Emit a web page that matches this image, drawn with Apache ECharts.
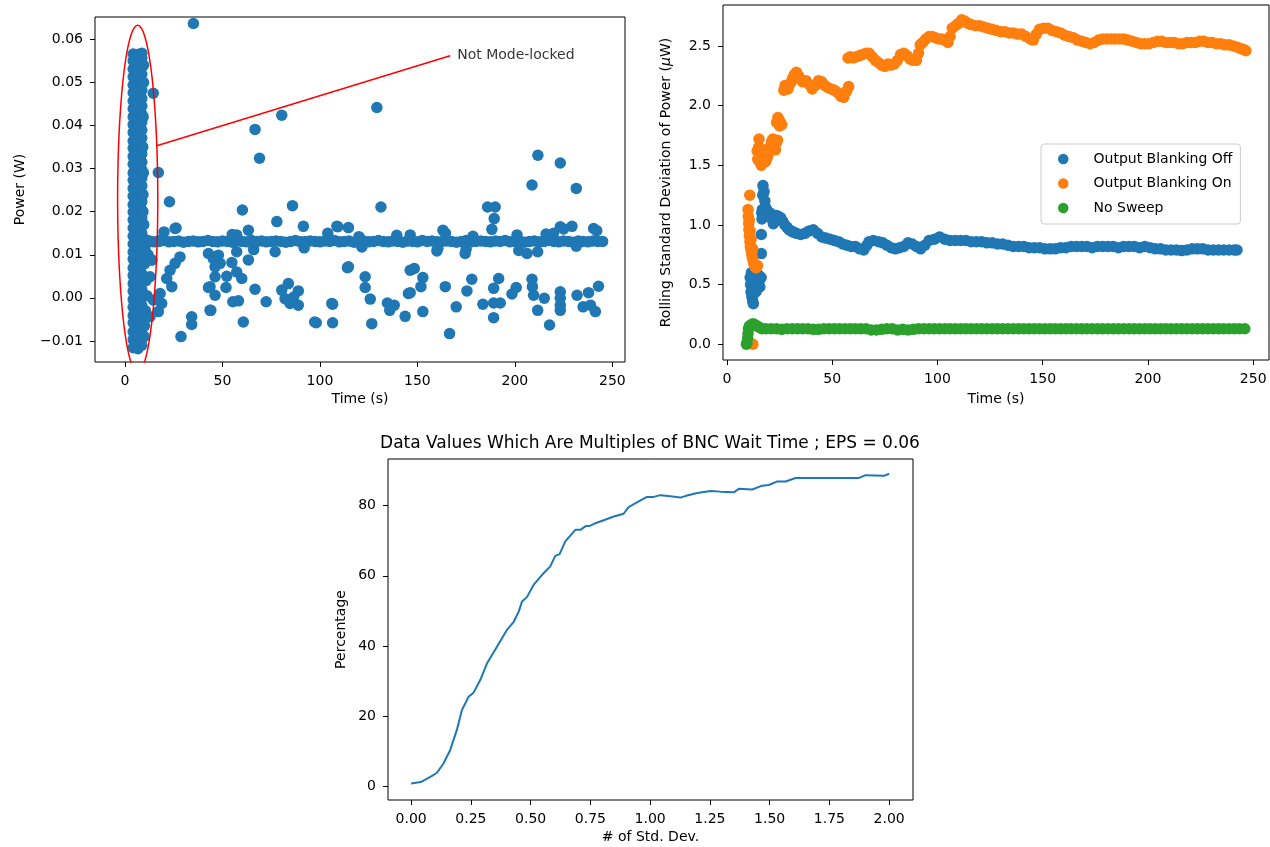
<!DOCTYPE html>
<html>
<head>
<meta charset="utf-8">
<script src="https://cdn.jsdelivr.net/npm/echarts@6/dist/echarts.min.js"></script>
<style>
html, body { margin: 0; padding: 0; background: #fff; }
#main { width: 1270px; height: 847px; }
</style>
</head>
<body>
<div id="main"></div>
<script>
var FONT = 'DejaVu Sans';
var C_BLUE = '#1f77b4', C_ORANGE = '#ff7f0e', C_GREEN = '#2ca02c';
var DOT = 11.5;

// ---- top left: power vs time ----
// dense burst before mode-locking, three columns of readings
var burstTimes = [4.2, 6.6, 8.6];
var burstColA = [-0.0116, -0.0097, -0.0079, -0.0058, -0.0041, -0.0022, -0.0004, 0.0015, 0.0033, 0.0052, 0.0069, 0.0090, 0.0106, 0.0125,
    0.0143, 0.0162, 0.0181, 0.0199, 0.0216, 0.0236, 0.0254, 0.0273, 0.0290, 0.0310, 0.0328, 0.0347, 0.0364, 0.0384, 0.0402, 0.0420,
    0.0439, 0.0457, 0.0476, 0.0494, 0.0513, 0.0531, 0.0550, 0.0566];
var burstColB = [-0.0118, -0.0100, -0.0083, -0.0064, -0.0045, -0.0027, -0.0009, 0.0010, 0.0028, 0.0047, 0.0065, 0.0084, 0.0102, 0.0121,
    0.0139, 0.0158, 0.0176, 0.0195, 0.0213, 0.0232, 0.0250, 0.0269, 0.0287, 0.0306, 0.0324, 0.0343, 0.0361, 0.0380, 0.0398, 0.0417,
    0.0435, 0.0454, 0.0472, 0.0491, 0.0509, 0.0528, 0.0546, 0.0565];
var burstColC = [-0.0110, -0.0092, -0.0073, -0.0055, -0.0036, -0.0018, 0.0001, 0.0019, 0.0038, 0.0056, 0.0075, 0.0093, 0.0112, 0.0130,
    0.0149, 0.0167, 0.0186, 0.0204, 0.0223, 0.0241, 0.0260, 0.0278, 0.0297, 0.0315, 0.0334, 0.0352, 0.0371, 0.0389, 0.0408, 0.0426,
    0.0445, 0.0463, 0.0482, 0.0500, 0.0519, 0.0537, 0.0556, 0.0568];
var burstEdge = [[10.5, 0.0135], [11.5, 0.0128], [12.5, 0.0131], [10.2, 0.0080], [10.8, 0.0040], [11.2, 0.0005], [10.5, -0.0030],
    [10.0, -0.0065], [9.2, 0.0200], [9.4, 0.0290], [9.3, 0.0420], [9.5, 0.0500], [9.6, 0.0170], [9.2, 0.0240], [12.8, 0.0049],
    [13.7, 0.0088], [12.8, -0.0044], [11.8, 0.0100], [9.5, 0.0540], [9.1, 0.0350], [10.3, 0.0110], [9.8, -0.0090]];
// steady mode-locked readings every 2.5 s from 10 s
var bandStart = 10, bandStep = 2.5;
var bandPower = [
    0.0131, 0.0132, 0.0130, 0.0131, 0.0133, 0.0130, 0.0131, 0.0132, 0.0129, 0.0131,
    0.0132, 0.0130, 0.0131, 0.0133, 0.0131, 0.0130, 0.0132, 0.0131, 0.0129, 0.0132,
    0.0131, 0.0130, 0.0133, 0.0131, 0.0132, 0.0130, 0.0131, 0.0132, 0.0131, 0.0129,
    0.0131, 0.0133, 0.0130, 0.0131, 0.0132, 0.0131, 0.0130, 0.0132, 0.0131, 0.0133,
    0.0130, 0.0131, 0.0132, 0.0129, 0.0131, 0.0132, 0.0130, 0.0131, 0.0133, 0.0131,
    0.0130, 0.0132, 0.0131, 0.0129, 0.0132, 0.0131, 0.0130, 0.0133, 0.0131, 0.0132,
    0.0130, 0.0131, 0.0132, 0.0131, 0.0129, 0.0131, 0.0133, 0.0130, 0.0131, 0.0132,
    0.0131, 0.0130, 0.0132, 0.0131, 0.0133, 0.0130, 0.0131, 0.0132, 0.0129, 0.0131,
    0.0132, 0.0130, 0.0131, 0.0133, 0.0131, 0.0130, 0.0132, 0.0131, 0.0129, 0.0132,
    0.0131, 0.0130, 0.0132, 0.0131, 0.0131];
var outliers = [
    [35.1, 0.0637], [14.5, 0.0475], [80.4, 0.0424], [66.7, 0.0391], [69.0, 0.0324], [17.1, 0.0291], [22.8, 0.0223], [60.2, 0.0204],
    [85.9, 0.0214], [26.2, 0.0162], [63.3, 0.0157], [77.9, 0.0177], [91.5, 0.0166], [20.0, 0.0153], [25.7, 0.0161], [18.0, 0.0134],
    [13.7, 0.0088], [18.0, 0.0010], [18.8, -0.0013], [17.1, -0.0032], [14.5, -0.0005], [28.2, 0.0095], [25.7, 0.0080],
    [23.1, 0.0064], [24.0, 0.0026], [21.4, 0.0045], [34.2, -0.0044], [34.2, -0.0062], [28.7, -0.0090], [43.6, -0.0029], [43.6, 0.0026],
    [46.2, 0.0006], [46.2, 0.0072], [42.8, 0.0103], [47.9, 0.0099], [131.3, 0.0211], [108.7, 0.0166], [114.6, 0.0163], [57.3, 0.0146],
    [57.3, 0.0107], [63.3, 0.0088], [77.0, 0.0107], [91.9, 0.0116], [45.3, 0.0091], [48.8, 0.0080], [54.8, 0.0082], [114.1, 0.0070],
    [46.2, 0.0049], [52.2, 0.0050], [57.3, 0.0060], [59.9, 0.0045], [51.8, 0.0024], [42.8, 0.0024], [66.7, 0.0020], [55.3, -0.0009],
    [58.2, -0.0007], [72.4, -0.0009], [44.0, -0.0029], [60.7, -0.0056], [80.4, 0.0018], [83.8, 0.0033], [88.9, 0.0016], [82.1, -0.0002],
    [84.7, -0.0013], [88.9, -0.0017], [86.5, 0.0002], [98.1, -0.0058], [106.5, -0.0058], [106.5, -0.0015], [126.6, -0.0060],
    [125.8, -0.0003], [123.2, 0.0049], [123.2, 0.0024], [134.6, -0.0012], [138.1, -0.0017], [135.8, -0.0029], [143.7, -0.0043],
    [145.4, 0.0010], [146.3, 0.0064], [208.8, 0.0262], [231.5, 0.0254], [186.0, 0.0211], [189.9, 0.0211], [189.4, 0.0184],
    [188.2, 0.0159], [163.1, 0.0157], [229.3, 0.0166], [223.3, 0.0165], [240.4, 0.0161], [219.8, 0.0150], [201.1, 0.0146],
    [146.3, 0.0146], [160.0, 0.0109], [174.5, 0.0103], [206.2, 0.0103], [211.7, 0.0107], [231.5, 0.0120], [148.4, 0.0068],
    [152.8, 0.0047], [151.8, 0.0026], [146.3, 0.0012], [152.8, -0.0032], [164.3, 0.0026], [166.5, -0.0083], [169.9, -0.0021],
    [175.4, 0.0016], [177.9, 0.0043], [183.6, -0.0015], [189.1, -0.0012], [192.5, -0.0012], [189.1, -0.0046], [189.1, 0.0022],
    [191.7, 0.0045], [198.5, 0.0009], [200.7, 0.0024], [208.8, 0.0043], [209.0, 0.0026], [209.6, 0.0006], [215.1, -0.0001],
    [211.7, -0.0029], [217.8, -0.0063], [223.3, 0.0014], [223.3, -0.0001], [223.3, -0.0017], [223.3, -0.0029], [231.9, 0.0006],
    [237.8, 0.0012], [242.9, 0.0027], [235.0, -0.0021], [238.8, -0.0017], [241.3, -0.0032], [129.2, 0.0442], [211.8, 0.0331],
    [223.3, 0.0313], [109.2, 0.0165], [114.6, 0.0072], [106.1, -0.0013], [97.3, -0.0056], [104.0, 0.0150], [139.4, 0.0145],
    [164.4, 0.0150], [178.5, 0.0143], [216.0, 0.0148], [225.0, 0.0160], [242.0, 0.0156], [55.0, 0.0147], [120.0, 0.0142],
    [175.0, 0.0113], [202.0, 0.0110], [160.5, 0.0115], [66.0, 0.0112], [121.5, 0.0118]];
var powerTimeTicks = [0, 50, 100, 150, 200, 250];
var powerTicks = [-0.01, 0, 0.01, 0.02, 0.03, 0.04, 0.05, 0.06];
// annotation: ellipse round the burst, arrow line to the label
var ringCenter = [6.5, 0.023], ringRadius = [10.3, 0.0403];
var annoFrom = [16.3, 0.0353], annoTo = [166.8, 0.0562], annoText = [170.4, 0.0562];

// ---- top right: rolling standard deviation ----
var blankOff = [
    [11.0, 0.56], [11.2, 0.50], [11.4, 0.44], [11.8, 0.40], [12.2, 0.36], [12.5, 0.34], [12.6, 0.42], [12.8, 0.50], [13.0, 0.57],
    [13.3, 0.60], [13.6, 0.52], [14.0, 0.47], [14.3, 0.55], [14.7, 0.50], [15.0, 0.58], [15.3, 0.53], [15.6, 0.48], [12.0, 0.55],
    [11.6, 0.60], [13.8, 0.44], [16.2, 0.56], [16.3, 0.76], [16.3, 0.92], [16.6, 1.05], [16.8, 1.13], [17.0, 1.25], [17.1, 1.33],
    [17.6, 1.28], [18.0, 1.20], [18.5, 1.14], [16.5, 1.10], [17.5, 1.08], [19.0, 1.12], [19.8, 1.08], [20.5, 1.10], [21.3, 1.05],
    [22.0, 1.01], [22.8, 1.04], [23.5, 1.08], [24.5, 1.07], [25.5, 1.06], [26.5, 1.03], [27.5, 1.00], [28.5, 0.98], [29.5, 0.96],
    [30.5, 0.95], [31.5, 0.94], [33.0, 0.93], [35.0, 0.92], [37.0, 0.93], [39.0, 0.95], [41.0, 0.96], [43.0, 0.93], [45.0, 0.90],
    [47.0, 0.89], [49.0, 0.88], [51.0, 0.87], [53.0, 0.86], [55.0, 0.84], [57.0, 0.83], [59.0, 0.82], [61.0, 0.82], [63.0, 0.80],
    [65.0, 0.79], [66.5, 0.83], [67.5, 0.86], [69.5, 0.87], [72.0, 0.86], [74.0, 0.85], [76.0, 0.83], [78.0, 0.81], [80.0, 0.80],
    [82.0, 0.81], [84.0, 0.82], [86.0, 0.85], [88.0, 0.84], [90.0, 0.82], [92.0, 0.80], [94.0, 0.83], [96.0, 0.87], [98.5, 0.88],
    [101.0, 0.90], [103.5, 0.88], [106.0, 0.87], [108.5, 0.87], [111.0, 0.87], [113.5, 0.87], [116.0, 0.86], [118.5, 0.86],
    [121.0, 0.86], [123.5, 0.85], [126.0, 0.85], [128.5, 0.84], [131.0, 0.84], [133.5, 0.83], [136.0, 0.82], [138.5, 0.82],
    [141.0, 0.82], [143.5, 0.81], [146.0, 0.81], [148.5, 0.81], [151.0, 0.80], [153.5, 0.80], [156.0, 0.80], [158.5, 0.81],
    [161.0, 0.81], [163.5, 0.82], [166.0, 0.82], [168.5, 0.82], [171.0, 0.82], [173.5, 0.81], [176.0, 0.82], [178.5, 0.82],
    [181.0, 0.82], [183.5, 0.82], [186.0, 0.81], [188.5, 0.82], [191.0, 0.82], [193.5, 0.82], [196.0, 0.81], [198.5, 0.82],
    [201.0, 0.81], [203.5, 0.80], [206.0, 0.80], [208.5, 0.79], [211.0, 0.79], [213.5, 0.79], [216.0, 0.785], [218.5, 0.79],
    [221.0, 0.80], [223.5, 0.80], [226.0, 0.80], [228.5, 0.79], [231.0, 0.79], [233.5, 0.79], [236.0, 0.79], [238.5, 0.79],
    [241.0, 0.79], [242.3, 0.79]];
var blankOn = [
    [12.3, 0.0], [10.8, 1.25], [10.0, 1.13], [10.1, 1.07], [10.3, 1.01], [10.4, 0.96], [10.6, 0.91], [10.9, 0.86], [11.1, 0.82],
    [11.4, 0.79], [11.7, 0.76], [12.0, 0.73], [12.4, 0.70], [12.8, 0.67], [13.3, 0.65], [13.8, 0.64], [14.5, 0.66], [10.6, 1.04],
    [11.0, 0.95], [11.5, 0.88], [12.2, 0.80],
    [14.3, 1.62], [14.6, 1.55], [15.0, 1.65], [15.4, 1.58], [15.8, 1.52], [16.3, 1.50], [16.8, 1.55], [17.3, 1.60], [17.8, 1.56],
    [18.3, 1.53], [18.8, 1.55], [19.4, 1.58], [20.0, 1.62], [20.6, 1.66], [21.2, 1.70], [21.8, 1.72], [22.4, 1.67], [23.0, 1.63],
    [23.5, 1.69], [24.0, 1.71], [15.2, 1.72], [16.0, 1.64],
    [23.6, 1.86], [24.2, 1.90], [24.8, 1.88], [25.4, 1.86], [26.0, 1.84], [25.0, 1.83],
    [27.0, 2.13], [27.6, 2.17], [28.3, 2.16], [29.0, 2.14], [29.8, 2.18], [30.5, 2.20], [31.2, 2.23], [32.0, 2.26], [33.0, 2.28],
    [34.0, 2.25], [35.0, 2.22], [36.0, 2.20], [37.5, 2.21], [39.0, 2.18], [40.5, 2.14], [42.0, 2.17], [43.5, 2.21], [45.0, 2.20],
    [46.5, 2.17], [48.0, 2.15], [49.5, 2.14], [51.0, 2.13], [52.5, 2.11], [54.0, 2.08], [55.5, 2.07], [56.8, 2.12], [57.8, 2.16],
    [57.5, 2.40], [58.5, 2.41], [60.0, 2.40], [61.5, 2.41], [63.0, 2.42], [64.5, 2.43], [66.0, 2.44], [67.5, 2.44], [69.0, 2.41],
    [70.5, 2.38], [72.0, 2.36], [73.5, 2.34], [75.0, 2.33], [76.5, 2.35], [78.0, 2.34], [79.5, 2.35], [81.0, 2.38], [82.5, 2.43],
    [84.0, 2.44], [85.5, 2.42], [87.0, 2.39], [88.5, 2.38], [90.0, 2.38], [91.0, 2.44], [91.8, 2.51], [93.0, 2.53], [94.5, 2.56],
    [96.0, 2.58], [97.5, 2.58], [99.0, 2.57], [100.5, 2.56], [102.0, 2.56], [103.5, 2.55], [105.0, 2.53], [106.0, 2.58],
    [107.0, 2.65], [108.5, 2.67], [110.0, 2.69], [111.5, 2.72], [113.0, 2.71], [114.5, 2.69], [116.0, 2.68], [118.0, 2.67],
    [120.0, 2.67], [122.0, 2.66], [124.0, 2.65], [126.0, 2.64], [128.0, 2.63], [130.0, 2.62], [132.0, 2.62], [134.0, 2.61],
    [136.0, 2.61], [138.0, 2.60], [140.0, 2.60], [142.0, 2.58], [144.0, 2.56], [145.5, 2.55], [147.0, 2.60], [148.5, 2.64],
    [150.5, 2.65], [152.5, 2.65], [154.5, 2.63], [156.5, 2.62], [158.5, 2.61], [160.5, 2.59], [162.5, 2.58], [164.5, 2.57],
    [166.5, 2.55], [168.5, 2.54], [170.5, 2.53], [172.5, 2.52], [174.5, 2.53], [176.5, 2.55], [178.5, 2.56], [180.5, 2.56],
    [182.5, 2.56], [184.5, 2.56], [186.5, 2.56], [188.5, 2.56], [190.5, 2.55], [192.5, 2.54], [194.5, 2.53], [196.5, 2.52],
    [198.5, 2.52], [200.5, 2.52], [202.5, 2.53], [204.5, 2.54], [206.5, 2.54], [208.5, 2.53], [210.5, 2.53], [212.5, 2.53],
    [214.5, 2.52], [216.5, 2.52], [218.5, 2.53], [220.5, 2.53], [222.5, 2.53], [224.5, 2.54], [226.5, 2.54], [228.5, 2.53],
    [230.5, 2.53], [232.5, 2.52], [234.5, 2.52], [236.5, 2.51], [238.5, 2.51], [240.5, 2.50], [242.5, 2.49], [244.0, 2.48],
    [245.5, 2.47], [246.5, 2.46]];
var noSweepStartup = [[9.2, 0.0], [9.5, 0.01], [9.8, 0.05], [10.0, 0.09], [10.2, 0.13], [10.6, 0.15], [11.2, 0.16], [12.0, 0.17],
    [12.8, 0.17], [13.6, 0.16], [14.5, 0.15], [15.5, 0.14], [16.5, 0.13]];
// after start-up, one reading every 2.5 s from 18.5 s
var noSweepStart = 18.5, noSweepStep = 2.5;
var noSweepVals = [
    0.13, 0.13, 0.13, 0.125, 0.13, 0.13, 0.13, 0.13, 0.13, 0.125,
    0.125, 0.13, 0.13, 0.13, 0.13, 0.13, 0.13, 0.13, 0.13, 0.13,
    0.12, 0.12, 0.125, 0.13, 0.13, 0.12, 0.125, 0.12, 0.125, 0.13,
    0.13, 0.13, 0.13, 0.13, 0.13, 0.13, 0.13, 0.13, 0.13, 0.13,
    0.13, 0.13, 0.13, 0.13, 0.13, 0.13, 0.13, 0.13, 0.13, 0.13,
    0.13, 0.13, 0.13, 0.13, 0.13, 0.13, 0.13, 0.13, 0.13, 0.13,
    0.13, 0.13, 0.13, 0.13, 0.13, 0.13, 0.13, 0.13, 0.13, 0.13,
    0.13, 0.13, 0.13, 0.13, 0.13, 0.13, 0.13, 0.13, 0.13, 0.13,
    0.13, 0.13, 0.13, 0.13, 0.13, 0.13, 0.13, 0.13, 0.13, 0.13,
    0.13, 0.13];
var rollTimeTicks = [0, 50, 100, 150, 200, 250];
var rollTicks = [0, 0.5, 1, 1.5, 2, 2.5];

// ---- bottom: percentage vs number of std. dev. ----
var stdDevX = [0.00, 0.04, 0.08, 0.107, 0.135, 0.163, 0.191, 0.212, 0.24, 0.261, 0.289, 0.317, 0.359, 0.401, 0.429, 0.45, 0.464,
    0.485, 0.512, 0.548, 0.582, 0.603, 0.621, 0.645, 0.687, 0.708, 0.729, 0.75, 0.771, 0.82, 0.848, 0.889, 0.91, 0.952, 0.987,
    1.015, 1.043, 1.085, 1.127, 1.155, 1.197, 1.253, 1.294, 1.35, 1.371, 1.427, 1.469, 1.497, 1.532, 1.567, 1.609, 1.71, 1.874,
    1.902, 1.979, 2.0];
var percentY = [0.8, 1.2, 2.7, 3.8, 6.5, 10.3, 16.0, 21.7, 25.5, 26.7, 30.3, 35.0, 39.8, 44.6, 46.9, 49.8, 52.7, 54.0, 57.4,
    60.3, 62.7, 65.7, 66.2, 69.8, 73.1, 73.1, 74.1, 74.3, 75.0, 76.2, 76.9, 77.7, 79.6, 81.2, 82.5, 82.5, 83.0, 82.7, 82.3,
    82.9, 83.6, 84.2, 84.0, 83.8, 84.8, 84.6, 85.7, 85.9, 86.9, 86.9, 87.9, 87.9, 87.9, 88.7, 88.5, 89.1];
var stdDevTicks = [0, 0.25, 0.5, 0.75, 1, 1.25, 1.5, 1.75, 2];
var percentTicks = [0, 20, 40, 60, 80];

var chart = echarts.init(document.getElementById('main'));
initChart();

/**
 * 组装散点数据
 */
function buildPowerData() {
    var data = [];
    var cols = [burstColA, burstColB, burstColC];
    for (var c = 0; c < cols.length; c++) {
        for (var i = 0; i < cols[c].length; i++) {
            data.push([burstTimes[c], cols[c][i]]);
        }
    }
    for (var j = 0; j < burstEdge.length; j++) data.push(burstEdge[j]);
    for (var k = 0; k < bandPower.length; k++) data.push([bandStart + k * bandStep, bandPower[k]]);
    for (var m = 0; m < outliers.length; m++) data.push(outliers[m]);
    return data;
}

function buildNoSweep() {
    var data = noSweepStartup.slice();
    for (var i = 0; i < noSweepVals.length; i++) data.push([noSweepStart + i * noSweepStep, noSweepVals[i]]);
    return data;
}

function buildRing() {
    var pts = [];
    for (var i = 0; i <= 120; i++) {
        var a = i / 120 * Math.PI * 2;
        pts.push([ringCenter[0] + ringRadius[0] * Math.cos(a), ringCenter[1] + ringRadius[1] * Math.sin(a)]);
    }
    return pts;
}

function minusFmt(digits) {
    return function(v) {
        var s = Math.abs(v).toFixed(digits);
        return (v < 0 && Number(s) !== 0 ? '\u2212' : '') + s;
    };
}

function axis(gridIndex, min, max, ticks, fmt, name, nameGap, isY) {
    return {
        type: 'value',
        gridIndex: gridIndex,
        min: min,
        max: max,
        name: name,
        nameLocation: 'middle',
        nameGap: nameGap,
        nameRotate: isY ? 90 : 0,
        nameTextStyle: { fontFamily: FONT, fontSize: 14, color: '#000' },
        splitLine: { show: false },
        axisLine: { show: false, onZero: false },
        axisTick: { show: true, length: 5, customValues: ticks, lineStyle: { color: '#000', width: 1 } },
        axisLabel: { customValues: ticks, formatter: fmt, fontFamily: FONT, fontSize: 14, color: '#000', margin: 12 }
    };
}

function initChart() {
    var gridBase = { show: true, borderColor: '#000', borderWidth: 1, backgroundColor: '#fff', containLabel: false };
    var option = {
        animation: false,
        textStyle: { fontFamily: FONT },
        grid: [
            Object.assign({ left: 95, top: 17, width: 530, height: 345 }, gridBase),
            Object.assign({ left: 723, top: 5, width: 546, height: 355 }, gridBase),
            Object.assign({ left: 388, top: 459, width: 525, height: 341 }, gridBase)
        ],
        xAxis: [
            axis(0, -15.4, 256.5, powerTimeTicks, minusFmt(0), 'Time (s)', 30, false),
            axis(1, -1.9, 257.5, rollTimeTicks, minusFmt(0), 'Time (s)', 32, false),
            axis(2, -0.097, 2.1, stdDevTicks, minusFmt(2), '# of Std. Dev.', 30, false)
        ],
        yAxis: [
            axis(0, -0.0149, 0.0652, powerTicks, minusFmt(2), 'Power (W)', 68, true),
            (function() {
                var a = axis(1, -0.132, 2.844, rollTicks, minusFmt(1), 'Rolling Standard Deviation of Power ({i|\u03bc}W)', 50, true);
                a.nameTextStyle.rich = { i: { fontFamily: FONT, fontSize: 14, fontStyle: 'italic', color: '#000' } };
                return a;
            })(),
            axis(2, -3.9, 93.3, percentTicks, minusFmt(0), 'Percentage', 40, true)
        ],
        legend: {
            left: 1041,
            top: 144,
            orient: 'vertical',
            data: ['Output Blanking Off', 'Output Blanking On', 'No Sweep'],
            icon: 'circle',
            itemWidth: 10.5,
            itemHeight: 10.5,
            itemGap: 10.5,
            padding: [8, 8, 9, 17],
            borderColor: '#cccccc',
            borderWidth: 1,
            borderRadius: 3,
            selectedMode: false,
            textStyle: { fontFamily: FONT, fontSize: 14, color: '#000', padding: [0, 0, 0, 20] }
        },
        graphic: [{
            type: 'text',
            x: 650,
            y: 444,
            style: {
                text: 'Data Values Which Are Multiples of BNC Wait Time ; EPS = 0.06',
                fontFamily: FONT,
                fontSize: 17,
                fill: '#000',
                align: 'center',
                verticalAlign: 'middle'
            }
        }],
        series: [
            {
                type: 'scatter', xAxisIndex: 0, yAxisIndex: 0,
                symbolSize: DOT, itemStyle: { color: C_BLUE, opacity: 1 },
                data: buildPowerData()
            },
            {
                type: 'line', xAxisIndex: 0, yAxisIndex: 0, showSymbol: false, silent: true, clip: true,
                lineStyle: { color: '#ff0000', width: 1.5 },
                data: buildRing()
            },
            {
                type: 'line', xAxisIndex: 0, yAxisIndex: 0, showSymbol: false, silent: true,
                lineStyle: { color: '#ff0000', width: 1.5 },
                data: [annoFrom, annoTo]
            },
            {
                type: 'scatter', xAxisIndex: 0, yAxisIndex: 0, symbolSize: 0, silent: true,
                label: { show: true, position: 'right', distance: 0, formatter: 'Not Mode-locked', fontFamily: FONT, fontSize: 14, color: '#000' },
                data: [annoText]
            },
            {
                name: 'Output Blanking Off', type: 'scatter', xAxisIndex: 1, yAxisIndex: 1,
                symbolSize: DOT, itemStyle: { color: C_BLUE, opacity: 1 }, data: blankOff
            },
            {
                name: 'Output Blanking On', type: 'scatter', xAxisIndex: 1, yAxisIndex: 1,
                symbolSize: DOT, itemStyle: { color: C_ORANGE, opacity: 1 }, data: blankOn
            },
            {
                name: 'No Sweep', type: 'scatter', xAxisIndex: 1, yAxisIndex: 1,
                symbolSize: DOT, itemStyle: { color: C_GREEN, opacity: 1 }, data: buildNoSweep()
            },
            {
                type: 'line', xAxisIndex: 2, yAxisIndex: 2, showSymbol: false,
                lineStyle: { color: C_BLUE, width: 2 },
                data: stdDevX.map(function(x, i) { return [x, percentY[i]]; })
            }
        ]
    };
    chart.setOption(option);
}
</script>
</body>
</html>
